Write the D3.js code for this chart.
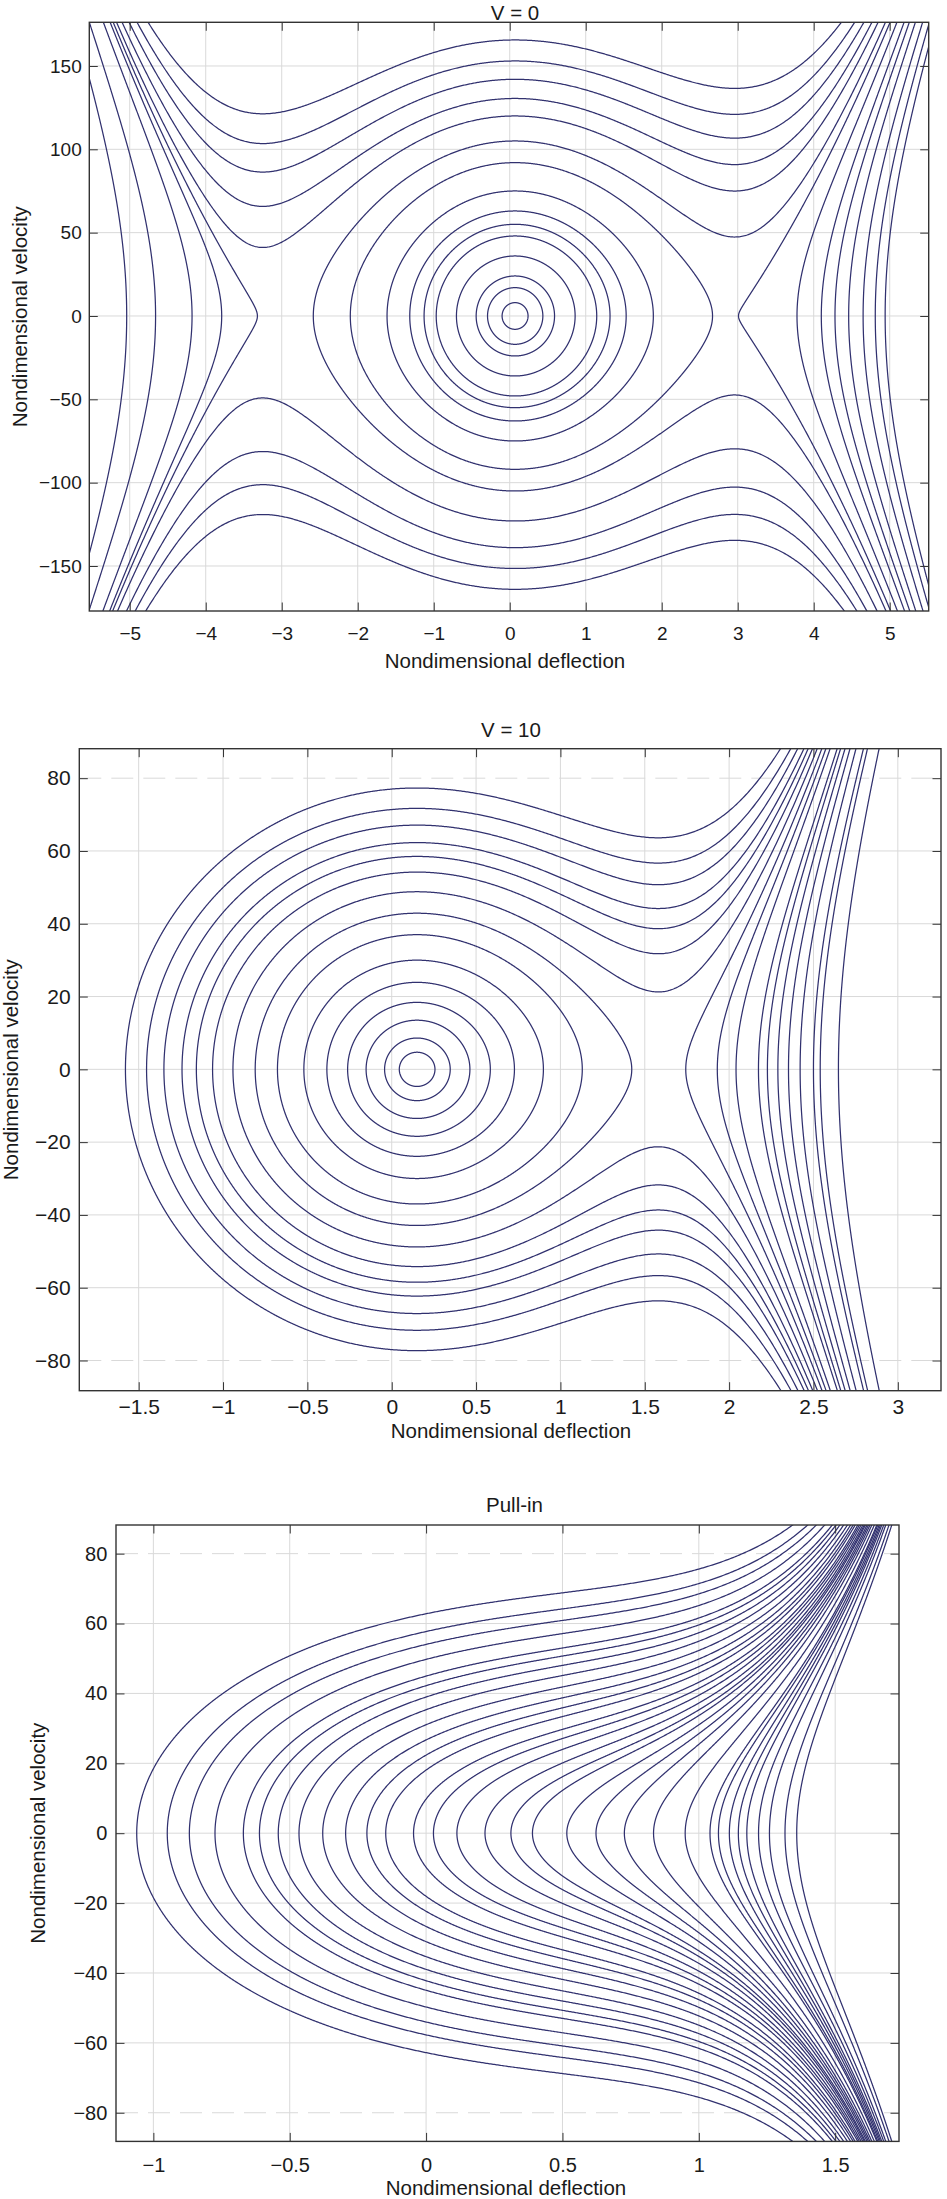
<!DOCTYPE html>
<html>
<head>
<meta charset="utf-8">
<script src="https://cdn.jsdelivr.net/npm/d3@7"></script>
<style>
  body { margin: 0; background: #fff; }
  svg text { font-family: "Liberation Sans", Arial, Helvetica, sans-serif; fill: #1a1a1a; }
</style>
</head>
<body>
<svg id="fig" width="947" height="2199"></svg>
<script>
// ---------- values ----------

// V = 0
var v0XTicks = [-5, -4, -3, -2, -1, 0, 1, 2, 3, 4, 5];
var v0YTicks = [-150, -100, -50, 0, 50, 100, 150];
var v0Equilibria = [-3.25, 0.07, 2.96];   // left saddle, centre, right saddle
var v0Stiffness = 229;
var v0Closed = [8, 17, 24, 36, 48, 55, 63, 75, 92];        // velocity at the centre
var v0Escaping = [105];                                      // over the right saddle only
var v0Upper = [120, 130.5, 142, 153, 165.6];                 // over both saddles, v > 0
var v0Lower = [-123, -139, -151.5, -164];                    // over both saddles, v < 0
var v0LeftTurns = [-5.04, -4.66, -4.18, -3.79, -3.32];       // deflection where v = 0
var v0RightTurns = [3.01, 3.78, 4.10, 4.28, 4.46, 4.65, 4.81, 4.94];

// V = 10
var v10XTicks = [-1.5, -1, -0.5, 0, 0.5, 1, 1.5, 2, 2.5, 3];
var v10YTicks = [-80, -60, -40, -20, 0, 20, 40, 60, 80];
var v10Centre = 0.15;
var v10Coeffs = [1000, 224.7, 70.8];
var v10Closed = [4.7, 8.6, 13.5, 18.4, 23.9, 30.0, 37.0, 42.9];
var v10Escaping = [48.8, 54.2, 58.5, 62.3, 67.1, 71.7, 77.3];
var v10RightTurns = [1.743, 1.930, 2.041, 2.174, 2.227, 2.289, 2.352, 2.421, 2.500, 2.540, 2.648];

// Pull-in
var piXTicks = [-1, -0.5, 0, 0.5, 1, 1.5];
var piYTicks = [-80, -60, -40, -20, 0, 20, 40, 60, 80];
var piSpring = [2400, -0.12];      // stiffness, rest position
var piElectro = [6266, 2.2];       // strength, gap
var piTurns = [-1.061, -0.949, -0.868, -0.774, -0.670, -0.611, -0.542, -0.466, -0.379,
               -0.295, -0.217, -0.148, -0.046, 0.027, 0.113, 0.216, 0.311, 0.390, 0.516,
               0.623, 0.727, 0.834, 0.950, 1.041, 1.072, 1.112, 1.145, 1.176, 1.219,
               1.259, 1.316, 1.359];

// ---------- potentials (energy = v^2/2 + U) ----------

function potentialV0(x) {
  var s1 = v0Equilibria[0], c = v0Equilibria[1], s2 = v0Equilibria[2];
  var X = x - c, a = c - s1, b = s2 - c;
  return -v0Stiffness * (X*X*X*X/4 + (a - b)*X*X*X/3 - a*b*X*X/2);
}
function potentialV10(x) {
  var X = x - v10Centre;
  if (X < 0) return v10Coeffs[0]*X*X;
  return v10Coeffs[0]*X*X - v10Coeffs[1]*X*X*X - v10Coeffs[2]*Math.pow(X, 5);
}
function potentialPullIn(x) {
  return piSpring[0]*(x*x/2 - piSpring[1]*x) - piElectro[0]/(piElectro[1] - x);
}

// walk from x0 toward dir until U climbs above E, return the crossing
function findTurn(U, E, x0, dir, lo, hi) {
  var h = (hi - lo) / 5000, xx = x0 + dir*h;
  while (xx > lo && xx < hi) {
    if (U(xx) > E) {
      var a = xx - dir*h, b = xx;
      for (var i = 0; i < 50; i++) {
        var m = (a + b) / 2;
        if (U(m) > E) b = m; else a = m;
      }
      return (a + b) / 2;
    }
    xx += dir*h;
  }
  return null;
}

// trajectory that turns at x0 (v = 0) and heads toward dir
function trajectory(U, E, x0, dir, lo, hi) {
  var xe = findTurn(U, E, x0, dir, lo, hi), closed = xe !== null;
  if (!closed) xe = dir > 0 ? hi : lo;
  var n = 900, up = [];
  for (var i = 0; i <= n; i++) {
    var t = i / n;
    var xv = closed ? x0 + (xe - x0)*(1 - Math.cos(Math.PI*t))/2 : x0 + (xe - x0)*t*t;
    up.push([xv, Math.sqrt(Math.max(0, 2*(E - U(xv))))]);
  }
  var down = up.map(function(p) { return [p[0], -p[1]]; });
  if (closed) return up.concat(down.reverse());
  return up.slice().reverse().concat(down.slice(1));
}

// curve that never turns: one sign of v across the whole window
function sweep(U, E, sign, lo, hi) {
  var n = 900, pts = [];
  for (var i = 0; i <= n; i++) {
    var xv = lo + (hi - lo)*i/n;
    pts.push([xv, sign*Math.sqrt(Math.max(0, 2*(E - U(xv))))]);
  }
  return pts;
}

function fromCentreVelocity(U, vc, c, lo, hi) {
  var E = vc*vc/2 + U(c);
  var xl = findTurn(U, E, c, -1, lo, hi);
  return trajectory(U, E, xl, 1, lo, hi);
}

var svg = d3.select("#fig");
var curveColour = "#31316f";

function drawPanel(p) {
  var x = d3.scaleLinear().domain(p.xDomain).range([p.left, p.right]);
  var y = d3.scaleLinear().domain(p.yDomain).range([p.bottom, p.top]);
  var g = svg.append("g");

  // grid
  g.append("g").selectAll("line").data(p.xTicks).enter().append("line")
    .attr("x1", function(d) { return x(d); }).attr("x2", function(d) { return x(d); })
    .attr("y1", p.top).attr("y2", p.bottom)
    .attr("stroke", "#d9d9d9").attr("stroke-width", 1);
  g.append("g").selectAll("line").data(p.yTicks).enter().append("line")
    .attr("x1", p.left).attr("x2", p.right)
    .attr("y1", function(d) { return y(d); }).attr("y2", function(d) { return y(d); })
    .attr("stroke", "#d9d9d9").attr("stroke-width", 1)
    .attr("stroke-dasharray", function(d) { return p.dashed.indexOf(d) >= 0 ? "22,10" : null; });

  // curves
  var clipId = "clip-" + p.id;
  svg.append("clipPath").attr("id", clipId).append("rect")
    .attr("x", p.left).attr("y", p.top)
    .attr("width", p.right - p.left).attr("height", p.bottom - p.top);
  var line = d3.line().x(function(d) { return x(d[0]); }).y(function(d) { return y(d[1]); });
  g.append("g").attr("clip-path", "url(#" + clipId + ")")
    .selectAll("path").data(p.curves).enter().append("path")
    .attr("d", line).attr("fill", "none")
    .attr("stroke", curveColour).attr("stroke-width", 1.25);

  // axes, ticks inside on all four sides
  var fmt = d3.format("");
  function styleAxis(sel) {
    sel.select(".domain").remove();
    sel.selectAll(".tick line").attr("stroke", "#333");
    sel.selectAll(".tick text").style("font-size", p.tickFont + "px").attr("fill", "#1a1a1a");
  }
  g.append("g").attr("transform", "translate(0," + p.bottom + ")")
    .call(d3.axisBottom(x).tickValues(p.xTicks).tickFormat(fmt).tickSize(-8.5).tickPadding(p.xPad))
    .call(styleAxis);
  g.append("g").attr("transform", "translate(0," + p.top + ")")
    .call(d3.axisTop(x).tickValues(p.xTicks).tickFormat("").tickSize(-8.5))
    .call(styleAxis);
  g.append("g").attr("transform", "translate(" + p.left + ",0)")
    .call(d3.axisLeft(y).tickValues(p.yTicks).tickFormat(fmt).tickSize(-8.5).tickPadding(p.yPad))
    .call(styleAxis);
  g.append("g").attr("transform", "translate(" + p.right + ",0)")
    .call(d3.axisRight(y).tickValues(p.yTicks).tickFormat("").tickSize(-8.5))
    .call(styleAxis);

  g.append("rect").attr("x", p.left).attr("y", p.top)
    .attr("width", p.right - p.left).attr("height", p.bottom - p.top)
    .attr("fill", "none").attr("stroke", "#333").attr("stroke-width", 1.4);

  // labels
  g.append("text").attr("x", p.titleX).attr("y", p.titleY)
    .attr("text-anchor", "middle").style("font-size", "20.5px").text(p.title);
  g.append("text").attr("x", p.xLabelX).attr("y", p.xLabelY)
    .attr("text-anchor", "middle").style("font-size", "20.5px").text("Nondimensional deflection");
  g.append("text")
    .attr("transform", "translate(" + p.yLabelX + "," + (p.top + p.bottom)/2 + ") rotate(-90)")
    .attr("text-anchor", "middle").attr("dy", "0.35em")
    .style("font-size", "20.5px").text("Nondimensional velocity");
}

// ---------- panel 1: V = 0 ----------
(function() {
  var xd = [-5.532, 5.513], lo = xd[0] - 0.3, hi = xd[1] + 0.3, U = potentialV0, c = v0Equilibria[1];
  var curves = [];
  v0Closed.concat(v0Escaping).forEach(function(vc) { curves.push(fromCentreVelocity(U, vc, c, lo, hi)); });
  v0Upper.forEach(function(vc) { curves.push(sweep(U, vc*vc/2 + U(c), 1, lo, hi)); });
  v0Lower.forEach(function(vc) { curves.push(sweep(U, vc*vc/2 + U(c), -1, lo, hi)); });
  v0LeftTurns.forEach(function(x0) { curves.push(trajectory(U, U(x0), x0, -1, lo, hi)); });
  v0RightTurns.forEach(function(x0) { curves.push(trajectory(U, U(x0), x0, 1, lo, hi)); });
  drawPanel({
    id: "v0", left: 89.3, right: 928.7, top: 22.3, bottom: 611,
    xDomain: xd, yDomain: [-177, 176.2], xTicks: v0XTicks, yTicks: v0YTicks, dashed: [],
    curves: curves, tickFont: 19, xPad: 15.5, yPad: 7.6,
    title: "V = 0", titleX: 515, titleY: 19.5,
    xLabelX: 505, xLabelY: 668, yLabelX: 19.5
  });
})();

// ---------- panel 2: V = 10 ----------
(function() {
  var xd = [-1.852, 3.256], lo = xd[0] - 0.1, hi = xd[1] + 0.1, U = potentialV10, c = v10Centre;
  var curves = [];
  v10Closed.concat(v10Escaping).forEach(function(vc) { curves.push(fromCentreVelocity(U, vc, c, lo, hi)); });
  v10RightTurns.forEach(function(x0) { curves.push(trajectory(U, U(x0), x0, 1, lo, hi)); });
  drawPanel({
    id: "v10", left: 79.3, right: 941, top: 748.7, bottom: 1390.7,
    xDomain: xd, yDomain: [-88.3, 88.1], xTicks: v10XTicks, yTicks: v10YTicks, dashed: [-80, 80],
    curves: curves, tickFont: 21, xPad: 8.4, yPad: 8.6,
    title: "V = 10", titleX: 511, titleY: 737,
    xLabelX: 511, xLabelY: 1438, yLabelX: 11
  });
})();

// ---------- panel 3: pull-in ----------
(function() {
  var xd = [-1.137, 1.734], lo = xd[0] - 0.05, hi = xd[1] + 0.05, U = potentialPullIn;
  var curves = piTurns.map(function(x0) { return trajectory(U, U(x0), x0, 1, lo, hi); });
  drawPanel({
    id: "pi", left: 116, right: 899, top: 1525, bottom: 2141.4,
    xDomain: xd, yDomain: [-88.2, 88.2], xTicks: piXTicks, yTicks: piYTicks, dashed: [-80, 80],
    curves: curves, tickFont: 20, xPad: 16, yPad: 8.7,
    title: "Pull-in", titleX: 514.5, titleY: 1512,
    xLabelX: 506, xLabelY: 2195, yLabelX: 38
  });
})();
</script>
</body>
</html>
